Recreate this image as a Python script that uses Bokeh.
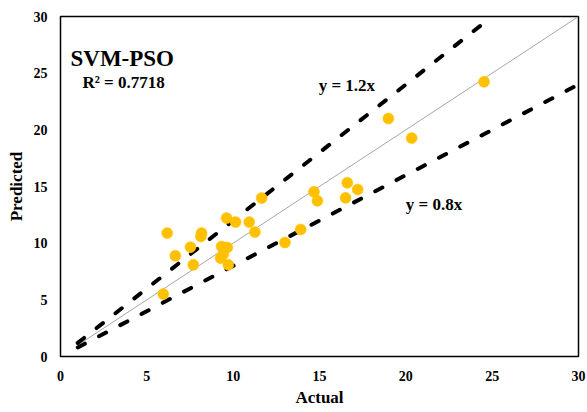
from bokeh.plotting import figure
from bokeh.models import Label, Range1d, FixedTicker, ColumnDataSource
from bokeh.embed import file_html
from bokeh.resources import INLINE

# Data
actual = [5.95, 6.18, 6.65, 7.53, 7.69, 8.17, 8.13, 9.33, 9.66, 9.27, 9.43, 9.62, 10.14,
          9.72, 10.93, 11.26, 11.65, 13.0, 13.91, 14.68, 14.88, 16.51, 16.61, 17.21,
          18.99, 20.34, 24.53]
predicted = [5.51, 10.89, 8.89, 9.65, 8.09, 10.89, 10.59, 9.71, 9.62, 8.68, 9.04, 12.21, 11.86,
             8.09, 11.86, 10.98, 13.98, 10.06, 11.21, 14.53, 13.74, 14.0, 15.33, 14.74,
             21.0, 19.27, 24.24]
ticks = [0, 5, 10, 15, 20, 25, 30]
ref_x = [1, 30]
upper_x = [1, 24.6]
lower_x = [1, 30]
upper_k = 1.2
lower_k = 0.8

FONT = "Liberation Serif"

p = figure(width=587, height=412, output_backend="svg", toolbar_location=None,
           x_range=Range1d(0, 30), y_range=Range1d(0, 30),
           min_border_left=60, min_border_right=9, min_border_top=16, min_border_bottom=56)

p.xgrid.visible = False
p.ygrid.visible = False
p.outline_line_color = "black"
p.outline_line_width = 1.5
p.outline_line_alpha = 1.0

for ax in (p.xaxis[0], p.yaxis[0]):
    ax.ticker = FixedTicker(ticks=ticks)
    ax.axis_line_color = None
    ax.major_tick_line_color = None
    ax.minor_tick_line_color = None
    ax.major_tick_out = 0
    ax.major_tick_in = 0
    ax.major_label_text_font = FONT
    ax.major_label_text_font_style = "bold"
    ax.major_label_text_font_size = "14px"
    ax.major_label_text_color = "black"
    ax.axis_label_text_font = FONT
    ax.axis_label_text_font_style = "bold"
    ax.axis_label_text_font_size = "17px"
    ax.axis_label_text_color = "black"

p.xaxis.axis_label = "Actual"
p.yaxis.axis_label = "Predicted"
p.xaxis.major_label_standoff = 14
p.yaxis.major_label_standoff = 13
p.xaxis.axis_label_standoff = 4
p.yaxis.axis_label_standoff = 5

# reference line y = x
p.line(ref_x, ref_x, line_color="#A6A6A6", line_width=1)
# y = 1.2x and y = 0.8x
p.line(upper_x, [upper_k * v for v in upper_x], line_color="black", line_width=4,
       line_dash="8 16", line_cap="round")
p.line(lower_x, [lower_k * v for v in lower_x], line_color="black", line_width=4,
       line_dash="8 16", line_cap="round")

src = ColumnDataSource(dict(x=actual, y=predicted))
p.scatter("x", "y", source=src, size=11, fill_color="#FFC000", line_color="#FFC000",
          line_width=0.5)

def lab(x, y, t, size):
    p.add_layout(Label(x=x, y=y, text=t, text_font=FONT, text_font_style="bold",
                       text_font_size=size, text_color="black", text_baseline="alphabetic"))

lab(0.58, 26.27, "SVM-PSO", "23px")
lab(1.27, 24.15, "R² = 0.7718", "17px")
lab(14.95, 23.9, "y = 1.2x", "17px")
lab(20.0, 13.4, "y = 0.8x", "17px")

open("out.html", "w").write(file_html(p, INLINE))
